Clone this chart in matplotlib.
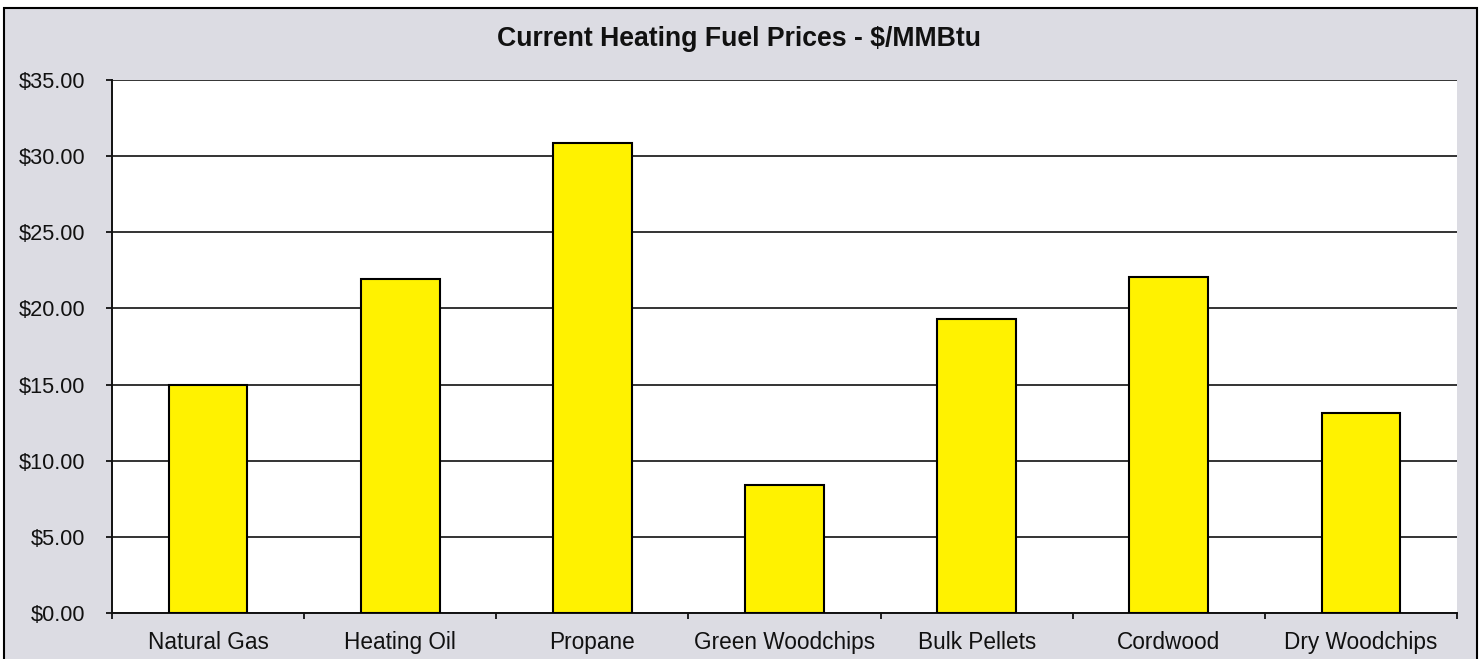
import matplotlib
matplotlib.use("Agg")
import matplotlib.pyplot as plt
from matplotlib.patches import Rectangle
from matplotlib.ticker import FixedLocator, FuncFormatter

categories = ["Natural Gas", "Heating Oil", "Propane", "Green Woodchips",
              "Bulk Pellets", "Cordwood", "Dry Woodchips"]
prices = [15.0, 21.95, 30.85, 8.4, 19.3, 22.05, 13.15]
yticks = [0, 5, 10, 15, 20, 25, 30, 35]
title = "Current Heating Fuel Prices - $/MMBtu"

plt.rcParams['font.family'] = ['Liberation Sans', 'DejaVu Sans']

W, H = 1484, 659
fig = plt.figure(figsize=(W / 100, H / 100), dpi=100)
fig.patch.set_facecolor('white')

# gray chart-area background with black border
bg = Rectangle((4 / W, -0.01), (1477 - 4) / W, (659 - 8) / H + 0.01,
               transform=fig.transFigure, facecolor='#dcdce3',
               edgecolor='black', linewidth=1.5, zorder=-10)
fig.patches.append(bg)

ax = fig.add_axes([112 / W, 1 - 613 / H, (1457 - 112) / W, (613 - 80) / H])
ax.set_zorder(5)
ax.set_facecolor('white')

x = list(range(len(categories)))
ax.bar(x, prices, width=0.41, color='#fff200', edgecolor='black',
       linewidth=1.5, zorder=3)

ax.set_xlim(-0.5, len(categories) - 0.5)
ax.set_ylim(0, 35)
ax.yaxis.set_major_locator(FixedLocator(yticks))
ax.yaxis.set_major_formatter(FuncFormatter(lambda v, p: f"${v:.2f}"))
ax.grid(axis='y', color='#111111', linewidth=1.2, zorder=1)
ax.set_axisbelow(True)

ax.set_xticks(x)
ax.set_xticklabels(categories)
ax.set_xticks([i - 0.5 for i in range(len(categories) + 1)], minor=True)
ax.tick_params(axis='x', which='major', length=0, pad=13, labelsize=16.3,
               labelcolor='#111111')
ax.tick_params(axis='x', which='minor', length=4, width=1.2, direction='out')
ax.tick_params(axis='y', which='major', length=4, width=1.2, pad=15,
               labelsize=15.7, direction='out', labelcolor='#111111')

for s in ['top', 'right']:
    ax.spines[s].set_visible(False)
for s in ['left', 'bottom']:
    ax.spines[s].set_linewidth(1.4)
    ax.spines[s].set_color('#111111')

fig.text(739 / W, 1 - 39 / H, title, ha='center', va='center',
         fontsize=19.2, fontweight='bold', zorder=6, color='#111111')

fig.savefig("out.png", dpi=100, facecolor=fig.get_facecolor())
